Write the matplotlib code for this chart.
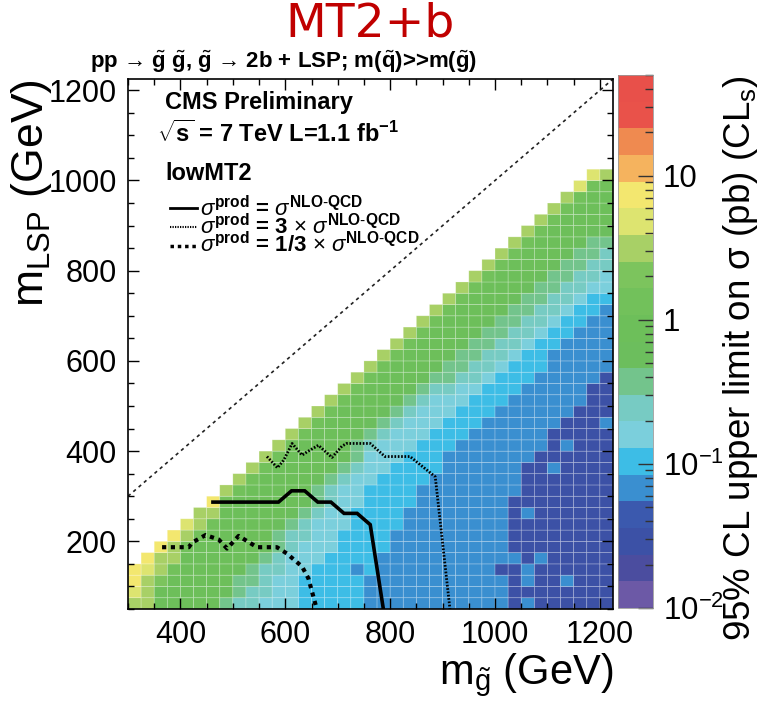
import numpy as np
import matplotlib

matplotlib.use("Agg")
import matplotlib.pyplot as plt
from matplotlib import colors, ticker

plt.rcParams["font.family"] = ["Liberation Sans", "DejaVu Sans"]
plt.rcParams["mathtext.fontset"] = "custom"
plt.rcParams["mathtext.rm"] = "Liberation Sans"
plt.rcParams["mathtext.it"] = "Liberation Sans:italic"
plt.rcParams["mathtext.bf"] = "Liberation Sans:bold"

# scan grid (GeV), 25 GeV bins
M_GLUINO_EDGES = np.arange(300, 1226, 25)
M_LSP_EDGES = np.arange(50, 1226, 25)

# colour band of the upper limit per cell, one string per gluino-mass column,
# lowest LSP mass first (0 = lowest band ... J = highest band)
LIMIT_BANDS = [
    "DEFF",
    "DDDEF",
    "AACDDF",
    "AAABDDF",
    "AAAAABDE",
    "AAAAAABDD",
    "AAAAAAABDF",
    "89AAAAAAABD",
    "7889AAAAAABD",
    "77889AAAAAABD",
    "677789AAAAAABD",
    "66677889AAAAABD",
    "666667789AAAAABD",
    "5556667789AAAAABD",
    "555566667889AAAABD",
    "5555566667789AAAABD",
    "55555556666789AAAABD",
    "5554555556667889AAABD",
    "44455555555666789AAABD",
    "444445555555666789AAABD",
    "4444444555555666789AAABD",
    "44444444455555666789AAABD",
    "444444444445555666789AAABD",
    "4444444444445555666789AAABD",
    "44444444444444555667889AAABD",
    "444444444444444555667889AAABD",
    "4444444444444444555677889AAABD",
    "44444444444444444555677889AAABD",
    "444244444444444444555677889AAABD",
    "2222422222444444444555677889AAABD",
    "42442222422224444444555677889AAABD",
    "222242222222224444444555677889AAABD",
    "2222222222224222444444455677889AAABD",
    "22422222222222422444444455677889AAABD",
    "222222222222222222444444455677889AAABE",
    "2222222222222222222244444455677889AAABE",
    "2222222222222222422224444445667789AAABD",
]

BAND_COLORS = [
    "#6c59a6", "#4b4d9f", "#3c51a6", "#3b59ae", "#3a8fd0",
    "#3dbde6", "#7bcfdc", "#77cbc3", "#73c48c", "#6cbe5d",
    "#6dbf5a", "#72c15b", "#7cc45d", "#a8d066", "#dde470",
    "#f3e76f", "#f5b35e", "#ef8a50", "#e9524a", "#e8504a",
]
LIMIT_MIN, LIMIT_MAX = 0.01, 50.0

# exclusion contours (m_gluino, m_LSP) in GeV
OBS_MG = [462, 587, 612, 637, 662, 687, 712, 737, 762, 787]
OBS_MLSP = [287, 287, 312, 312, 287, 287, 262, 262, 237, 50]
X3_MG = [565, 585, 597, 613, 632, 641, 663, 689, 708, 717, 762, 790, 838, 886, 914]
X3_MLSP = [388, 363, 380, 417, 391, 398, 413, 386, 411, 417, 417, 388, 388, 343, 50]
THIRD_MG = [365, 416, 422, 448, 473, 489, 511, 546, 584, 603, 632, 644, 660]
THIRD_MLSP = [187, 187, 197, 214, 204, 184, 212, 187, 187, 173, 144, 118, 50]

band_step = np.log10(LIMIT_MAX / LIMIT_MIN) / len(BAND_COLORS)
limits = np.full((len(M_LSP_EDGES) - 1, len(M_GLUINO_EDGES) - 1), np.nan)
for i, column in enumerate(LIMIT_BANDS):
    for j, code in enumerate(column):
        limits[j, i] = LIMIT_MIN * 10 ** ((int(code, 36) + 0.5) * band_step)

W, H = 760, 705
fig = plt.figure(figsize=(W / 100, H / 100), dpi=100)


def px(x, y):
    return x / W, 1 - y / H


ax = fig.add_axes([128 / W, 1 - 609 / H, 485 / W, 530 / H])
cmap = colors.ListedColormap(BAND_COLORS)
norm = colors.LogNorm(LIMIT_MIN, LIMIT_MAX)
mesh = ax.pcolor(
    M_GLUINO_EDGES, M_LSP_EDGES, np.ma.masked_invalid(limits),
    cmap=cmap, norm=norm, edgecolors=(1, 1, 1, 0.3), linewidth=0.5,
)

ax.set_xlim(300, 1225)
ax.set_ylim(50, 1225)
diag = np.array(ax.get_xlim())
ax.plot(diag, diag, color="#222222", lw=1.2, ls=(0, (2, 2.2)))
ax.plot(OBS_MG, OBS_MLSP, color="black", lw=2.6, solid_joinstyle="miter")
ax.plot(X3_MG, X3_MLSP, color="black", lw=2.0, ls=(0, (0.6, 0.6)))
ax.plot(THIRD_MG, THIRD_MLSP, color="black", lw=3.0, ls=(0, (1, 1.1)))

ax.xaxis.set_major_locator(ticker.MultipleLocator(200))
ax.xaxis.set_minor_locator(ticker.MultipleLocator(50))
ax.yaxis.set_major_locator(ticker.MultipleLocator(200))
ax.yaxis.set_minor_locator(ticker.MultipleLocator(50))
ax.tick_params(which="both", direction="in", top=True, right=True, width=1.0)
ax.tick_params(which="major", length=8, labelsize=22)
ax.tick_params(which="minor", length=4)
ax.tick_params(axis="x", pad=8)
ax.tick_params(axis="y", pad=8)
for spine in ax.spines.values():
    spine.set_linewidth(1.2)

ax.set_xlabel(r"m$_{\tilde{\mathrm{g}}}$ (GeV)", fontsize=30, ha="right", va="top")
ax.xaxis.set_label_coords(1.0, -0.08)
ax.set_ylabel(r"m$_{\mathrm{LSP}}$ (GeV)", fontsize=32, ha="right", va="bottom")
ax.yaxis.set_label_coords(-0.152, 1.0)

cax = fig.add_axes([618 / W, 1 - 608 / H, 35 / W, 533 / H])
cb = fig.colorbar(mesh, cax=cax)
cb.outline.set_linewidth(0.6)
cb.outline.set_edgecolor("#999999")
cb.set_ticks([0.01, 0.1, 1, 10])
cb.set_ticklabels(["$10^{-2}$", "$10^{-1}$", "1", "10"])
cax.tick_params(which="both", direction="in", color="#333333", labelsize=22.5, pad=7)
cax.tick_params(which="major", length=11, width=1)
cax.tick_params(which="minor", length=6, width=1)

fig.text(*px(740, 75), r"95% CL upper limit on σ (pb) (CL$_{\mathrm{s}}$)",
         rotation=90, ha="center", va="top", fontsize=26.5)

fig.text(*px(370, 24), "MT2+b", color="#c00000", fontsize=34,
         family="DejaVu Sans", ha="center", va="center")
fig.text(*px(284, 62),
         r"pp → $\tilde{\mathbf{g}}$ $\tilde{\mathbf{g}}$, $\tilde{\mathbf{g}}$ → 2b + LSP; "
         r"m($\tilde{\mathbf{q}}$)>>m($\tilde{\mathbf{g}}$)",
         fontsize=16, fontweight="bold", ha="center", va="center")

fig.text(*px(165, 102), "CMS Preliminary", fontsize=17, fontweight="bold", va="center")
fig.text(*px(157, 134), r"$\sqrt{\mathbf{s}}$ = 7 TeV L=1.1 fb$^{\mathbf{-1}}$",
         fontsize=17, fontweight="bold", va="center")
fig.text(*px(165, 174), "lowMT2", fontsize=17, fontweight="bold", va="center")

# legend: line samples plus one block of entry labels
legend_styles = [("-", 2.0), ((0, (0.6, 0.6)), 1.5), ((0, (1, 1.1)), 2.5)]
legend_labels = [
    r"$\sigma^{\mathbf{prod}}$ = $\sigma^{\mathbf{NLO}\text{-}\mathbf{QCD}}$",
    r"$\sigma^{\mathbf{prod}}$ = 3 $\times$ $\sigma^{\mathbf{NLO}\text{-}\mathbf{QCD}}$",
    r"$\sigma^{\mathbf{prod}}$ = 1/3 $\times$ $\sigma^{\mathbf{NLO}\text{-}\mathbf{QCD}}$",
]
for k, (style, lw) in enumerate(legend_styles):
    y = 208 + 19 * k
    fig.add_artist(plt.Line2D([170 / W, 197 / W], [1 - y / H] * 2, color="black", lw=lw, ls=style))
fig.text(*px(200, 196), "\n".join(legend_labels), fontsize=16, fontweight="bold",
         va="top", linespacing=0.65)

fig.savefig("out.png", dpi=100)
